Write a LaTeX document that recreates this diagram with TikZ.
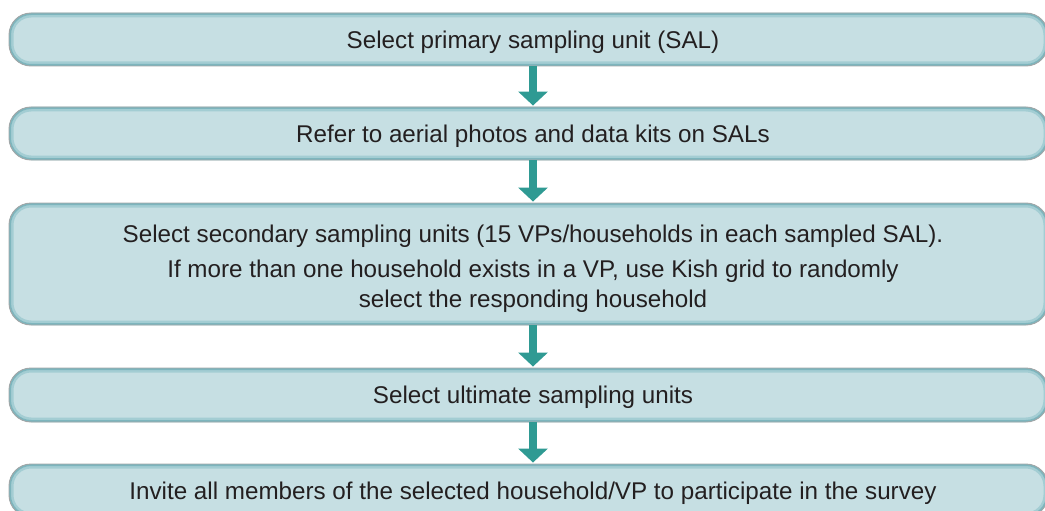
\documentclass[tikz,border=0pt]{standalone}
\usepackage{fontspec}
\setmainfont{Liberation Sans}
\usetikzlibrary{arrows.meta}
\definecolor{boxfill}{HTML}{C6DFE3}
\definecolor{glowA}{HTML}{A3CDD3}
\definecolor{glowB}{HTML}{7DB5BD}
\definecolor{boxline}{HTML}{A2A6A7}
\definecolor{arrowcol}{HTML}{2F9A93}
\definecolor{txt}{HTML}{231F20}
\tikzset{
  stepbox/.style={draw=boxline, line width=0.9pt, fill=boxfill, rounded corners=22pt,
    minimum width=1039pt, inner sep=0pt, anchor=center,
    path picture={
      \draw[glowA, line width=9pt, rounded corners=22pt]
        (path picture bounding box.south west) rectangle (path picture bounding box.north east);
      \draw[glowB, line width=4pt, rounded corners=22pt]
        (path picture bounding box.south west) rectangle (path picture bounding box.north east);
    }},
  steptext/.style={text=txt, font=\fontsize{24.2}{30}\selectfont, align=center, inner sep=0pt, anchor=center},
  flowarrow/.style={draw=arrowcol, line width=8pt, -{Triangle[width=29pt,length=14pt]}}
}
\begin{document}
\begin{tikzpicture}[x=1pt,y=-1pt]
\useasboundingbox (0,0) rectangle (1045,511);
\clip (0,0) rectangle (1045,511);
\node[stepbox, minimum height=53pt] (b1) at (528.5,39.5) {};
\node[stepbox, minimum height=53pt] (b2) at (528.5,133.5) {};
\node[stepbox, minimum height=122pt] (b3) at (528.5,264) {};
\node[stepbox, minimum height=54pt] (b4) at (528.5,395) {};
\node[stepbox, minimum height=53pt] (b5) at (528.5,490.5) {};
\node[steptext] (t1) at (533,42.5) {Select primary sampling unit (SAL)};
\node[steptext] (t2) at (533,136.5) {Refer to aerial photos and data kits on SALs};
\node[steptext] (t3) at (533,268.5) {Select secondary sampling units (15 VPs/households in each sampled SAL).\\[5pt]
If more than one household exists in a VP, use Kish grid to randomly\\
select the responding household};
\node[steptext] (t4) at (533,397.5) {Select ultimate sampling units};
\node[steptext] (t5) at (533,493.5) {Invite all members of the selected household/VP to participate in the survey};
\draw[flowarrow] (b1.south -| t1) -- ([yshift=1pt]b2.north -| t1);
\draw[flowarrow] (b2.south -| t1) -- ([yshift=1pt]b3.north -| t1);
\draw[flowarrow] (b3.south -| t1) -- ([yshift=1pt]b4.north -| t1);
\draw[flowarrow] (b4.south -| t1) -- ([yshift=1pt]b5.north -| t1);
\end{tikzpicture}
\end{document}
